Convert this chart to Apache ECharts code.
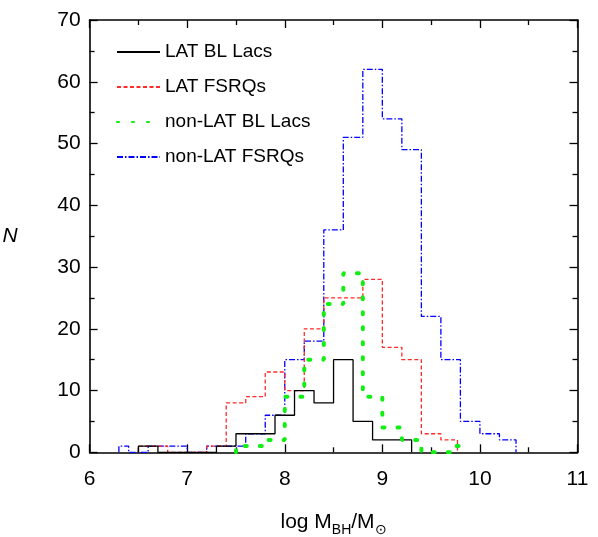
<!DOCTYPE html>
<html>
<head>
<meta charset="utf-8">
<script src="https://cdn.jsdelivr.net/npm/echarts@6/dist/echarts.min.js"></script>
<style>html,body{margin:0;padding:0;background:#fff;}#c{width:598px;height:537px;}</style>
</head>
<body>
<div id="c"></div>
<script>
// Histogram bin edges and counts
const latBLEdges = [6.5, 6.7, 7.3, 7.5, 7.9, 8.1, 8.3, 8.5, 8.7, 8.9, 9.3];
const latBLCounts = [1, 0, 1, 3, 6, 10, 8, 15, 5, 2];

const latFSRQEdges = [6.5, 6.8, 7.2, 7.4, 7.6, 7.8, 8.0, 8.2, 8.4, 8.8, 9.0, 9.2, 9.4, 9.6, 9.77];
const latFSRQCounts = [1, 0, 1, 8, 9, 13, 10, 20, 25, 28, 17, 15, 3, 2];

const nonLatBLEdges = [7.5, 7.8, 8.0, 8.2, 8.4, 8.6, 8.8, 9.0, 9.2, 9.4, 9.7, 9.8];
const nonLatBLCounts = [1, 2, 9, 15, 24, 29, 9, 4, 2, 0, 1];

const nonLatFSRQEdges = [6.3, 6.4, 6.6, 7.0, 7.2, 7.6, 7.8, 8.0, 8.2, 8.4, 8.6, 8.8, 9.0, 9.2, 9.4, 9.6, 9.8, 10.0, 10.2, 10.37];
const nonLatFSRQCounts = [1, 0, 1, 0, 1, 3, 6, 15, 18, 36, 51, 62, 54, 49, 22, 15, 5, 3, 2];

const seriesNames = ['LAT BL Lacs', 'LAT FSRQs', 'non-LAT BL Lacs', 'non-LAT FSRQs'];
const xTicks = [6, 7, 8, 9, 10, 11];
const yTicks = [0, 10, 20, 30, 40, 50, 60, 70];

function stepData(edges, counts) {
  const pts = [[edges[0], 0]];
  for (let i = 0; i < counts.length; i++) pts.push([edges[i], counts[i]]);
  pts.push([edges[edges.length - 1], 0]);
  return pts;
}

const FONT = '"Liberation Sans", Arial, sans-serif';
const chart = echarts.init(document.getElementById('c'), null, {renderer: 'canvas'});

const axisCommon = {
  axisLine: {show: true, onZero: false, lineStyle: {color: '#000', width: 1.6}},
  axisTick: {show: true, inside: true, length: 8, lineStyle: {color: '#000', width: 1.3}},
  minorTick: {show: true, splitNumber: 2, length: 5, lineStyle: {color: '#000', width: 1.3}},
  splitLine: {show: false},
  minorSplitLine: {show: false}
};

chart.setOption({
  animation: false,
  backgroundColor: '#fff',
  grid: {left: 89.6, right: 20.5, top: 20, bottom: 84.7, containLabel: false, outerBoundsMode: 'none'},
  legend: {
    orient: 'vertical', left: 116, top: 42, itemWidth: 43, itemHeight: 14, itemGap: 15,
    padding: 0,
    itemStyle: {opacity: 0},
    textStyle: {fontFamily: FONT, fontSize: 19, color: '#000', lineHeight: 20},
    data: seriesNames
  },
  xAxis: [
    Object.assign({
      type: 'value', min: xTicks[0], max: xTicks[xTicks.length - 1], interval: 1, position: 'bottom',
      axisLabel: {fontFamily: FONT, fontSize: 21, color: '#000', margin: 16},
      name: '{n|log M}{s|BH}{n|/M}{s|⊙}', nameLocation: 'middle', nameGap: 55,
      nameTextStyle: {rich: {
        n: {fontFamily: FONT, fontSize: 21, color: '#000'},
        s: {fontFamily: FONT, fontSize: 14, color: '#000', verticalAlign: 'bottom', padding: [16, 0, 0, 0]}
      }}
    }, axisCommon),
    Object.assign({
      type: 'value', min: xTicks[0], max: xTicks[xTicks.length - 1], interval: 1, position: 'top',
      axisLabel: {show: false}
    }, axisCommon)
  ],
  yAxis: [
    Object.assign({
      type: 'value', min: yTicks[0], max: yTicks[yTicks.length - 1], interval: 10, position: 'left',
      axisLabel: {fontFamily: FONT, fontSize: 21, color: '#000', margin: 9},
      name: 'N', nameLocation: 'middle', nameRotate: 0, nameGap: 72,
      nameTextStyle: {fontFamily: FONT, fontSize: 21, fontStyle: 'italic', color: '#000', padding: [0, 0, 0, 0]}
    }, axisCommon),
    Object.assign({
      type: 'value', min: yTicks[0], max: yTicks[yTicks.length - 1], interval: 10, position: 'right',
      axisLabel: {show: false}
    }, axisCommon)
  ],
  series: [
    {
      name: seriesNames[0], type: 'line', step: 'end', symbol: 'none', z: 4,
      data: stepData(latBLEdges, latBLCounts),
      lineStyle: {color: '#000', width: 1.3, type: 'solid'}, itemStyle: {color: '#000'}
    },
    {
      name: seriesNames[1], type: 'line', step: 'end', symbol: 'none', z: 3,
      data: stepData(latFSRQEdges, latFSRQCounts),
      lineStyle: {color: '#ff2a2a', width: 1.3, type: [4, 2.5]}, itemStyle: {color: '#ff2a2a'}
    },
    {
      name: seriesNames[2], type: 'line', step: 'end', symbol: 'none', z: 5,
      data: stepData(nonLatBLEdges, nonLatBLCounts),
      lineStyle: {color: '#11ee11', width: 4, type: [2, 13], cap: 'round'}, itemStyle: {color: '#11ee11'}
    },
    {
      name: seriesNames[3], type: 'line', step: 'end', symbol: 'none', z: 2,
      data: stepData(nonLatFSRQEdges, nonLatFSRQCounts),
      lineStyle: {color: '#0000ff', width: 1.3, type: [6, 2, 1.5, 2]}, itemStyle: {color: '#0000ff'}
    }
  ]
});
</script>
</body>
</html>
